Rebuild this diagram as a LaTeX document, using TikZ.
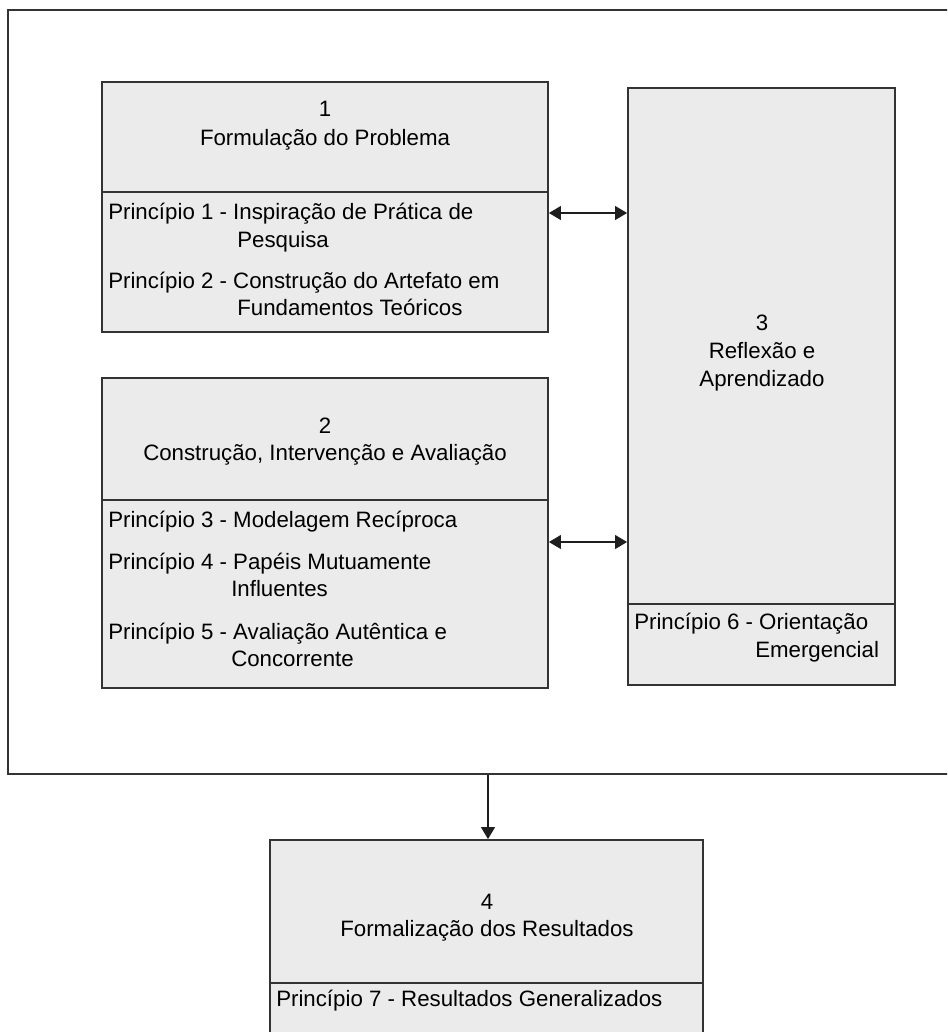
\documentclass[tikz,border=0pt]{standalone}
\usepackage{fontspec}
\setmainfont{Liberation Sans}
\usetikzlibrary{arrows.meta}
\definecolor{boxfill}{HTML}{EBEBEB}
\definecolor{edge}{HTML}{333333}
\definecolor{wire}{HTML}{1E1E1E}
\begin{document}
\begin{tikzpicture}[x=0.75pt,y=-0.75pt,
  box/.style={draw=edge,line width=1.2pt,fill=boxfill,rectangle,inner sep=0pt},
  frame/.style={draw=edge,line width=1.2pt,rectangle,inner sep=0pt},
  divider/.style={draw=edge,line width=1.2pt},
  txt/.style={inner sep=0pt,font=\fontsize{16.7}{20}\selectfont,text=black},
  lbl/.style={txt,anchor=base west},
  ttl/.style={txt,anchor=base},
  link/.style={draw=wire,line width=2pt,{Triangle[length=9pt,width=10pt]}-{Triangle[length=9pt,width=10pt]}},
  flow/.style={draw=wire,line width=2pt,-{Triangle[length=9pt,width=10pt]}}]
\useasboundingbox (0,0) rectangle (947,1032);
\clip (0,0) rectangle (947,1032);
\fill[white] (0,0) rectangle (947,1032);

% outer frame grouping the iterative stages
\node[frame,minimum width=744pt,minimum height=573pt] (frame) at (504,392) {};

% stage boxes
\node[box,minimum width=334.5pt,minimum height=187.5pt] (b1) at (325,207) {};
\node[box,minimum width=334.5pt,minimum height=232.5pt] (b2) at (325,533) {};
\node[box,minimum width=200.25pt,minimum height=447.75pt] (b3) at (761.5,386.5) {};
\node[box,minimum width=324.75pt,minimum height=165pt] (b4) at (486.5,950) {};

% section dividers
\draw[divider] (b1.west |- 0,192) -- (b1.east |- 0,192);
\draw[divider] (b2.west |- 0,500) -- (b2.east |- 0,500);
\draw[divider] (b3.west |- 0,604) -- (b3.east |- 0,604);
\draw[divider] (b4.west |- 0,983) -- (b4.east |- 0,983);

% stage 1
\node[ttl] (t1a) at (325,116) {1};
\node[ttl] (t1b) at (325,145) {Formulação do Problema};
\node[lbl] (p1a) at (108,219) {Princípio 1 - Inspiração de Prática de};
\node[lbl] (p1b) at (237,247) {Pesquisa};
\node[lbl] (p2a) at (108,288) {Princípio 2 - Construção do Artefato em};
\node[lbl] (p2b) at (237,315) {Fundamentos Teóricos};

% stage 2
\node[ttl] (t2a) at (325,433) {2};
\node[ttl] (t2b) at (325,460) {Construção, Intervenção e Avaliação};
\node[lbl] (p3a) at (108,527) {Princípio 3 - Modelagem Recíproca};
\node[lbl] (p4a) at (108,569) {Princípio 4 - Papéis Mutuamente};
\node[lbl] (p4b) at (231,596) {Influentes};
\node[lbl] (p5a) at (108,639) {Princípio 5 - Avaliação Autêntica e};
\node[lbl] (p5b) at (231,666) {Concorrente};

% stage 3
\node[ttl] (t3a) at (762,330) {3};
\node[ttl] (t3b) at (762,358) {Reflexão e};
\node[ttl] (t3c) at (762,386) {Aprendizado};
\node[lbl] (p6a) at (634,629) {Princípio 6 - Orientação};
\node[lbl] (p6b) at (755,657) {Emergencial};

% stage 4
\node[ttl] (t4a) at (487,909) {4};
\node[ttl] (t4b) at (487,936) {Formalização dos Resultados};
\node[lbl] (p7a) at (276,1006) {Princípio 7 - Resultados Generalizados};

% connectors
\draw[link] (b1.east |- 0,213) -- (b3.west |- 0,213);
\draw[link] (b2.east |- 0,542) -- (b3.west |- 0,542);
\draw[flow] (frame.south -| 488,0) -- (b4.north -| 488,0);
\end{tikzpicture}
\end{document}
